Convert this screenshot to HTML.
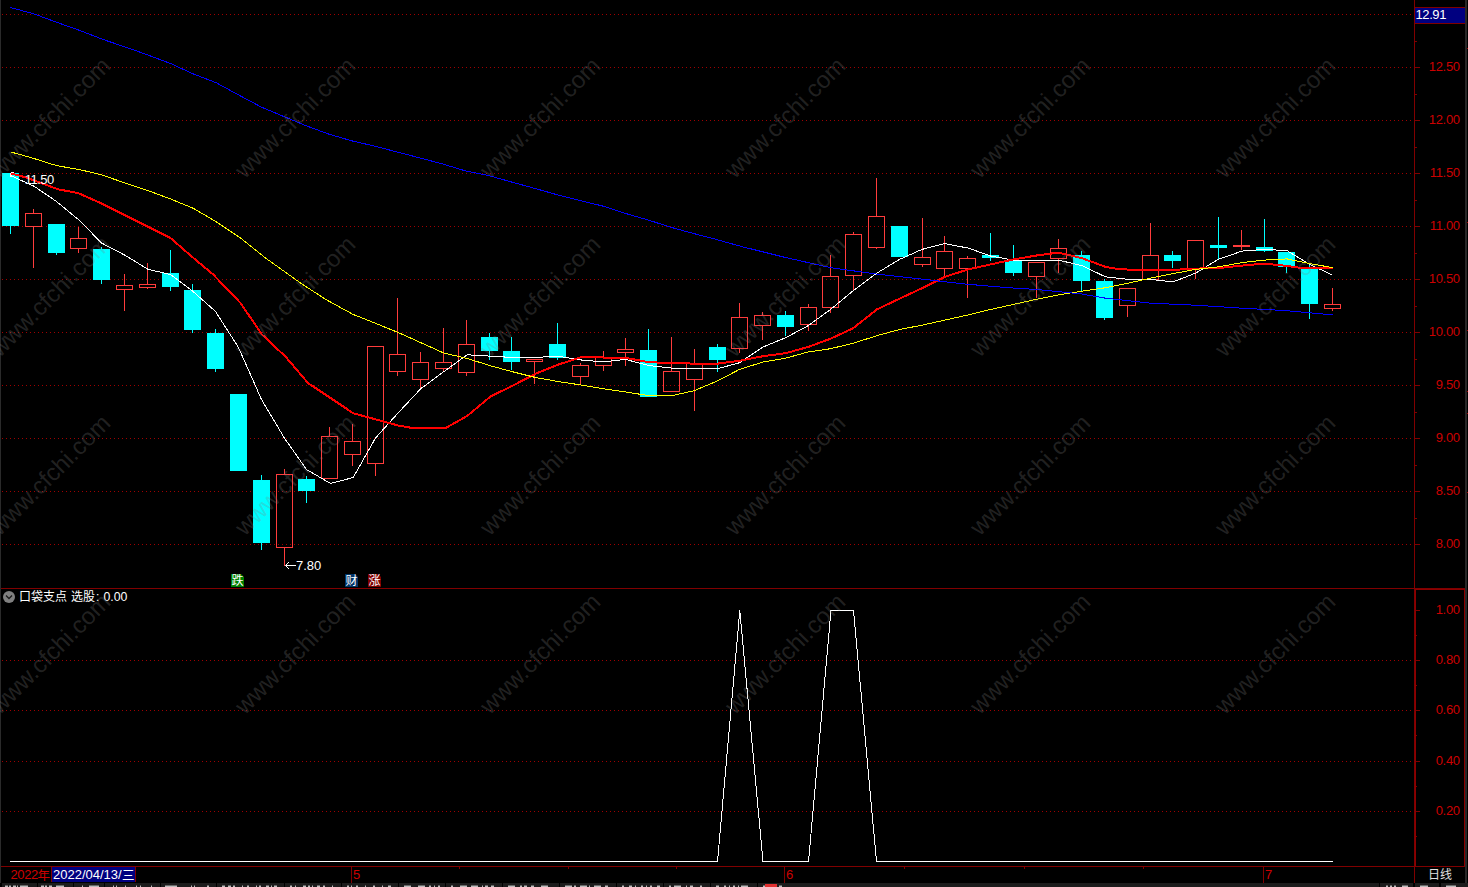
<!DOCTYPE html>
<html lang="zh"><head><meta charset="utf-8"><title>K线图</title>
<style>html,body{margin:0;padding:0;background:#000;}body{width:1468px;height:887px;overflow:hidden;position:relative;font-family:"Liberation Sans", sans-serif;}svg{position:absolute;left:0;top:0;display:block}text{font-family:"Liberation Sans", "Noto Sans CJK SC", sans-serif;}</style>
</head><body>
<svg width="1468" height="887" viewBox="0 0 1468 887">
<rect width="1468" height="887" fill="#000"/>
<rect x="1465" y="0" width="2" height="883" fill="#282828"/>
<rect x="1467" y="48" width="1" height="1" fill="#a00000"/>
<rect x="1467" y="222" width="1" height="1" fill="#a00000"/>
<rect x="1467" y="330" width="1" height="1" fill="#a00000"/>
<rect x="1467" y="391" width="1" height="1" fill="#a00000"/>
<rect x="1467" y="413" width="1" height="1" fill="#a00000"/>
<rect x="1467" y="492" width="1" height="1" fill="#a00000"/>
<g stroke="#a00000" stroke-width="1" stroke-dasharray="1 3" shape-rendering="crispEdges">
<line x1="2" y1="14.5" x2="1412" y2="14.5"/>
<line x1="2" y1="67.5" x2="1412" y2="67.5"/>
<line x1="2" y1="120.5" x2="1412" y2="120.5"/>
<line x1="2" y1="173.5" x2="1412" y2="173.5"/>
<line x1="2" y1="226.5" x2="1412" y2="226.5"/>
<line x1="2" y1="279.5" x2="1412" y2="279.5"/>
<line x1="2" y1="332.5" x2="1412" y2="332.5"/>
<line x1="2" y1="385.5" x2="1412" y2="385.5"/>
<line x1="2" y1="438.5" x2="1412" y2="438.5"/>
<line x1="2" y1="491.5" x2="1412" y2="491.5"/>
<line x1="2" y1="544.5" x2="1412" y2="544.5"/>
<line x1="2" y1="660.5" x2="1412" y2="660.5"/>
<line x1="2" y1="710.5" x2="1412" y2="710.5"/>
<line x1="2" y1="761.5" x2="1412" y2="761.5"/>
<line x1="2" y1="811.5" x2="1412" y2="811.5"/>
</g>
<g fill="#800000" shape-rendering="crispEdges">
<rect x="1414" y="0" width="1" height="883"/>
<rect x="0" y="588" width="1465" height="1"/>
<rect x="0" y="866" width="1465" height="1"/>
<rect x="1415" y="589" width="50" height="1" fill="#8c0000"/>
<rect x="1415" y="589" width="1" height="277" fill="#8c0000"/>
<rect x="1464" y="589" width="1" height="277" fill="#8c0000"/>
<rect x="1415" y="14" width="5" height="1"/>
<rect x="1415" y="41" width="2" height="1"/>
<rect x="1415" y="67" width="5" height="1"/>
<rect x="1415" y="94" width="2" height="1"/>
<rect x="1415" y="120" width="5" height="1"/>
<rect x="1415" y="147" width="2" height="1"/>
<rect x="1415" y="173" width="5" height="1"/>
<rect x="1415" y="200" width="2" height="1"/>
<rect x="1415" y="226" width="5" height="1"/>
<rect x="1415" y="253" width="2" height="1"/>
<rect x="1415" y="279" width="5" height="1"/>
<rect x="1415" y="306" width="2" height="1"/>
<rect x="1415" y="332" width="5" height="1"/>
<rect x="1415" y="359" width="2" height="1"/>
<rect x="1415" y="385" width="5" height="1"/>
<rect x="1415" y="412" width="2" height="1"/>
<rect x="1415" y="438" width="5" height="1"/>
<rect x="1415" y="465" width="2" height="1"/>
<rect x="1415" y="491" width="5" height="1"/>
<rect x="1415" y="518" width="2" height="1"/>
<rect x="1415" y="544" width="5" height="1"/>
<rect x="1416" y="610" width="4" height="1"/>
<rect x="1416" y="635" width="1" height="1"/>
<rect x="1416" y="660" width="4" height="1"/>
<rect x="1416" y="685" width="1" height="1"/>
<rect x="1416" y="710" width="4" height="1"/>
<rect x="1416" y="735" width="1" height="1"/>
<rect x="1416" y="761" width="4" height="1"/>
<rect x="1416" y="786" width="1" height="1"/>
<rect x="1416" y="811" width="4" height="1"/>
<rect x="1416" y="836" width="1" height="1"/>
<rect x="351" y="866" width="1" height="17"/>
<rect x="784" y="866" width="1" height="17"/>
<rect x="1263" y="866" width="1" height="17"/>
<rect x="459" y="866" width="1" height="3"/>
<rect x="568" y="866" width="1" height="3"/>
<rect x="676" y="866" width="1" height="3"/>
<rect x="904" y="866" width="1" height="3"/>
<rect x="1024" y="866" width="1" height="3"/>
<rect x="1143" y="866" width="1" height="3"/>
</g>
<rect x="0" y="0" width="1" height="883" fill="#2a2a2a"/>
<g fill="#cc0000" font-size="13" text-anchor="end" letter-spacing="-0.3">
<text x="1459.8" y="71">12.50</text>
<text x="1459.8" y="124">12.00</text>
<text x="1459.8" y="177">11.50</text>
<text x="1459.8" y="230">11.00</text>
<text x="1459.8" y="283">10.50</text>
<text x="1459.8" y="336">10.00</text>
<text x="1459.8" y="389">9.50</text>
<text x="1459.8" y="442">9.00</text>
<text x="1459.8" y="495">8.50</text>
<text x="1459.8" y="548">8.00</text>
<text x="1459.8" y="614">1.00</text>
<text x="1459.8" y="664">0.80</text>
<text x="1459.8" y="714">0.60</text>
<text x="1459.8" y="765">0.40</text>
<text x="1459.8" y="815">0.20</text>
</g>
<rect x="1415" y="7" width="50" height="17" fill="#000080"/>
<rect x="1415" y="7" width="50" height="1" fill="#800000"/><rect x="1415" y="23" width="50" height="1" fill="#800000"/>
<text x="1415.5" y="19" font-size="13" fill="#fff" letter-spacing="-0.4">12.91</text>
<g shape-rendering="crispEdges">
<rect x="2" y="173" width="17" height="53" fill="#00ffff"/>
<rect x="10" y="226" width="1" height="8" fill="#00ffff"/>
<rect x="25.5" y="213.5" width="16" height="13" fill="none" stroke="#ff3c3c" stroke-width="1"/>
<rect x="33" y="209" width="1" height="4" fill="#ff3c3c"/>
<rect x="33" y="227" width="1" height="41" fill="#ff3c3c"/>
<rect x="48" y="224" width="17" height="29" fill="#00ffff"/>
<rect x="56" y="253" width="1" height="2" fill="#00ffff"/>
<rect x="70.5" y="238.5" width="16" height="10" fill="none" stroke="#ff3c3c" stroke-width="1"/>
<rect x="78" y="227" width="1" height="11" fill="#ff3c3c"/>
<rect x="78" y="249" width="1" height="4" fill="#ff3c3c"/>
<rect x="93" y="249" width="17" height="31" fill="#00ffff"/>
<rect x="101" y="247" width="1" height="2" fill="#00ffff"/>
<rect x="101" y="280" width="1" height="4" fill="#00ffff"/>
<rect x="116.5" y="285.5" width="16" height="4" fill="none" stroke="#ff3c3c" stroke-width="1"/>
<rect x="124" y="274" width="1" height="11" fill="#ff3c3c"/>
<rect x="124" y="290" width="1" height="21" fill="#ff3c3c"/>
<rect x="139.5" y="284.5" width="16" height="3" fill="none" stroke="#ff3c3c" stroke-width="1"/>
<rect x="147" y="263" width="1" height="21" fill="#ff3c3c"/>
<rect x="147" y="288" width="1" height="1" fill="#ff3c3c"/>
<rect x="162" y="273" width="17" height="14" fill="#00ffff"/>
<rect x="170" y="250" width="1" height="23" fill="#00ffff"/>
<rect x="170" y="287" width="1" height="4" fill="#00ffff"/>
<rect x="184" y="290" width="17" height="40" fill="#00ffff"/>
<rect x="192" y="284" width="1" height="6" fill="#00ffff"/>
<rect x="192" y="330" width="1" height="3" fill="#00ffff"/>
<rect x="207" y="333" width="17" height="36" fill="#00ffff"/>
<rect x="215" y="329" width="1" height="4" fill="#00ffff"/>
<rect x="215" y="369" width="1" height="3" fill="#00ffff"/>
<rect x="230" y="394" width="17" height="77" fill="#00ffff"/>
<rect x="253" y="480" width="17" height="63" fill="#00ffff"/>
<rect x="261" y="475" width="1" height="5" fill="#00ffff"/>
<rect x="261" y="543" width="1" height="7" fill="#00ffff"/>
<rect x="276.5" y="474.5" width="16" height="73" fill="none" stroke="#ff3c3c" stroke-width="1"/>
<rect x="284" y="469" width="1" height="5" fill="#ff3c3c"/>
<rect x="284" y="548" width="1" height="18" fill="#ff3c3c"/>
<rect x="298" y="479" width="17" height="12" fill="#00ffff"/>
<rect x="306" y="476" width="1" height="3" fill="#00ffff"/>
<rect x="306" y="491" width="1" height="12" fill="#00ffff"/>
<rect x="321.5" y="436.5" width="16" height="42" fill="none" stroke="#ff3c3c" stroke-width="1"/>
<rect x="329" y="427" width="1" height="9" fill="#ff3c3c"/>
<rect x="344.5" y="441.5" width="16" height="13" fill="none" stroke="#ff3c3c" stroke-width="1"/>
<rect x="352" y="424" width="1" height="17" fill="#ff3c3c"/>
<rect x="352" y="455" width="1" height="11" fill="#ff3c3c"/>
<rect x="367.5" y="346.5" width="16" height="117" fill="none" stroke="#ff3c3c" stroke-width="1"/>
<rect x="375" y="464" width="1" height="12" fill="#ff3c3c"/>
<rect x="389.5" y="354.5" width="16" height="17" fill="none" stroke="#ff3c3c" stroke-width="1"/>
<rect x="397" y="298" width="1" height="56" fill="#ff3c3c"/>
<rect x="397" y="372" width="1" height="4" fill="#ff3c3c"/>
<rect x="412.5" y="362.5" width="16" height="17" fill="none" stroke="#ff3c3c" stroke-width="1"/>
<rect x="420" y="352" width="1" height="10" fill="#ff3c3c"/>
<rect x="420" y="380" width="1" height="8" fill="#ff3c3c"/>
<rect x="435.5" y="362.5" width="16" height="6" fill="none" stroke="#ff3c3c" stroke-width="1"/>
<rect x="443" y="328" width="1" height="34" fill="#ff3c3c"/>
<rect x="443" y="369" width="1" height="2" fill="#ff3c3c"/>
<rect x="458.5" y="344.5" width="16" height="28" fill="none" stroke="#ff3c3c" stroke-width="1"/>
<rect x="466" y="320" width="1" height="24" fill="#ff3c3c"/>
<rect x="466" y="373" width="1" height="3" fill="#ff3c3c"/>
<rect x="481" y="337" width="17" height="14" fill="#00ffff"/>
<rect x="489" y="333" width="1" height="4" fill="#00ffff"/>
<rect x="489" y="351" width="1" height="9" fill="#00ffff"/>
<rect x="503" y="351" width="17" height="11" fill="#00ffff"/>
<rect x="511" y="337" width="1" height="14" fill="#00ffff"/>
<rect x="511" y="362" width="1" height="8" fill="#00ffff"/>
<rect x="526.5" y="359.5" width="16" height="2" fill="none" stroke="#ff3c3c" stroke-width="1"/>
<rect x="534" y="362" width="1" height="22" fill="#ff3c3c"/>
<rect x="549" y="344" width="17" height="14" fill="#00ffff"/>
<rect x="557" y="323" width="1" height="21" fill="#00ffff"/>
<rect x="557" y="358" width="1" height="2" fill="#00ffff"/>
<rect x="572.5" y="365.5" width="16" height="11" fill="none" stroke="#ff3c3c" stroke-width="1"/>
<rect x="580" y="363" width="1" height="2" fill="#ff3c3c"/>
<rect x="580" y="377" width="1" height="7" fill="#ff3c3c"/>
<rect x="595.5" y="357.5" width="16" height="8" fill="none" stroke="#ff3c3c" stroke-width="1"/>
<rect x="603" y="351" width="1" height="6" fill="#ff3c3c"/>
<rect x="603" y="366" width="1" height="5" fill="#ff3c3c"/>
<rect x="617.5" y="349.5" width="16" height="3" fill="none" stroke="#ff3c3c" stroke-width="1"/>
<rect x="625" y="338" width="1" height="11" fill="#ff3c3c"/>
<rect x="625" y="353" width="1" height="13" fill="#ff3c3c"/>
<rect x="640" y="350" width="17" height="47" fill="#00ffff"/>
<rect x="648" y="329" width="1" height="21" fill="#00ffff"/>
<rect x="663.5" y="371.5" width="16" height="20" fill="none" stroke="#ff3c3c" stroke-width="1"/>
<rect x="671" y="337" width="1" height="34" fill="#ff3c3c"/>
<rect x="686.5" y="363.5" width="16" height="16" fill="none" stroke="#ff3c3c" stroke-width="1"/>
<rect x="694" y="349" width="1" height="14" fill="#ff3c3c"/>
<rect x="694" y="380" width="1" height="31" fill="#ff3c3c"/>
<rect x="709" y="347" width="17" height="13" fill="#00ffff"/>
<rect x="717" y="344" width="1" height="3" fill="#00ffff"/>
<rect x="717" y="360" width="1" height="12" fill="#00ffff"/>
<rect x="731.5" y="317.5" width="16" height="31" fill="none" stroke="#ff3c3c" stroke-width="1"/>
<rect x="739" y="303" width="1" height="14" fill="#ff3c3c"/>
<rect x="739" y="349" width="1" height="4" fill="#ff3c3c"/>
<rect x="754.5" y="315.5" width="16" height="10" fill="none" stroke="#ff3c3c" stroke-width="1"/>
<rect x="762" y="312" width="1" height="3" fill="#ff3c3c"/>
<rect x="762" y="326" width="1" height="14" fill="#ff3c3c"/>
<rect x="777" y="315" width="17" height="12" fill="#00ffff"/>
<rect x="785" y="311" width="1" height="4" fill="#00ffff"/>
<rect x="785" y="327" width="1" height="9" fill="#00ffff"/>
<rect x="800.5" y="307.5" width="16" height="17" fill="none" stroke="#ff3c3c" stroke-width="1"/>
<rect x="808" y="304" width="1" height="3" fill="#ff3c3c"/>
<rect x="808" y="325" width="1" height="6" fill="#ff3c3c"/>
<rect x="822.5" y="276.5" width="16" height="31" fill="none" stroke="#ff3c3c" stroke-width="1"/>
<rect x="830" y="255" width="1" height="21" fill="#ff3c3c"/>
<rect x="830" y="308" width="1" height="5" fill="#ff3c3c"/>
<rect x="845.5" y="234.5" width="16" height="41" fill="none" stroke="#ff3c3c" stroke-width="1"/>
<rect x="853" y="232" width="1" height="2" fill="#ff3c3c"/>
<rect x="853" y="276" width="1" height="14" fill="#ff3c3c"/>
<rect x="868.5" y="216.5" width="16" height="31" fill="none" stroke="#ff3c3c" stroke-width="1"/>
<rect x="876" y="178" width="1" height="38" fill="#ff3c3c"/>
<rect x="876" y="248" width="1" height="1" fill="#ff3c3c"/>
<rect x="891" y="226" width="17" height="31" fill="#00ffff"/>
<rect x="914.5" y="257.5" width="16" height="7" fill="none" stroke="#ff3c3c" stroke-width="1"/>
<rect x="922" y="218" width="1" height="39" fill="#ff3c3c"/>
<rect x="922" y="265" width="1" height="2" fill="#ff3c3c"/>
<rect x="936.5" y="251.5" width="16" height="17" fill="none" stroke="#ff3c3c" stroke-width="1"/>
<rect x="944" y="236" width="1" height="15" fill="#ff3c3c"/>
<rect x="944" y="269" width="1" height="7" fill="#ff3c3c"/>
<rect x="959.5" y="258.5" width="16" height="10" fill="none" stroke="#ff3c3c" stroke-width="1"/>
<rect x="967" y="256" width="1" height="2" fill="#ff3c3c"/>
<rect x="967" y="269" width="1" height="29" fill="#ff3c3c"/>
<rect x="982" y="255" width="17" height="3" fill="#00ffff"/>
<rect x="990" y="233" width="1" height="22" fill="#00ffff"/>
<rect x="990" y="258" width="1" height="3" fill="#00ffff"/>
<rect x="1005" y="260" width="17" height="13" fill="#00ffff"/>
<rect x="1013" y="245" width="1" height="15" fill="#00ffff"/>
<rect x="1013" y="273" width="1" height="3" fill="#00ffff"/>
<rect x="1028.5" y="262.5" width="16" height="14" fill="none" stroke="#ff3c3c" stroke-width="1"/>
<rect x="1036" y="277" width="1" height="21" fill="#ff3c3c"/>
<rect x="1050.5" y="248.5" width="16" height="10" fill="none" stroke="#ff3c3c" stroke-width="1"/>
<rect x="1058" y="239" width="1" height="9" fill="#ff3c3c"/>
<rect x="1058" y="259" width="1" height="14" fill="#ff3c3c"/>
<rect x="1073" y="255" width="17" height="26" fill="#00ffff"/>
<rect x="1081" y="251" width="1" height="4" fill="#00ffff"/>
<rect x="1081" y="281" width="1" height="10" fill="#00ffff"/>
<rect x="1096" y="281" width="17" height="37" fill="#00ffff"/>
<rect x="1104" y="279" width="1" height="2" fill="#00ffff"/>
<rect x="1104" y="318" width="1" height="2" fill="#00ffff"/>
<rect x="1119.5" y="288.5" width="16" height="17" fill="none" stroke="#ff3c3c" stroke-width="1"/>
<rect x="1127" y="306" width="1" height="11" fill="#ff3c3c"/>
<rect x="1142.5" y="255.5" width="16" height="24" fill="none" stroke="#ff3c3c" stroke-width="1"/>
<rect x="1150" y="223" width="1" height="32" fill="#ff3c3c"/>
<rect x="1164" y="255" width="17" height="6" fill="#00ffff"/>
<rect x="1172" y="251" width="1" height="4" fill="#00ffff"/>
<rect x="1172" y="261" width="1" height="7" fill="#00ffff"/>
<rect x="1187.5" y="240.5" width="16" height="28" fill="none" stroke="#ff3c3c" stroke-width="1"/>
<rect x="1195" y="269" width="1" height="10" fill="#ff3c3c"/>
<rect x="1210" y="245" width="17" height="3" fill="#00ffff"/>
<rect x="1218" y="217" width="1" height="28" fill="#00ffff"/>
<rect x="1218" y="248" width="1" height="11" fill="#00ffff"/>
<rect x="1233.5" y="245.5" width="16" height="1" fill="none" stroke="#ff3c3c" stroke-width="1"/>
<rect x="1241" y="230" width="1" height="15" fill="#ff3c3c"/>
<rect x="1241" y="247" width="1" height="3" fill="#ff3c3c"/>
<rect x="1256" y="247" width="17" height="4" fill="#00ffff"/>
<rect x="1264" y="219" width="1" height="28" fill="#00ffff"/>
<rect x="1264" y="251" width="1" height="1" fill="#00ffff"/>
<rect x="1278" y="252" width="17" height="15" fill="#00ffff"/>
<rect x="1286" y="267" width="1" height="6" fill="#00ffff"/>
<rect x="1301" y="268" width="17" height="36" fill="#00ffff"/>
<rect x="1309" y="264" width="1" height="4" fill="#00ffff"/>
<rect x="1309" y="304" width="1" height="15" fill="#00ffff"/>
<rect x="1324.5" y="304.5" width="16" height="4" fill="none" stroke="#ff3c3c" stroke-width="1"/>
<rect x="1332" y="288" width="1" height="16" fill="#ff3c3c"/>
<rect x="1332" y="309" width="1" height="2" fill="#ff3c3c"/>
</g>
<path d="M11 172h3v1h-3zM10 173h1v4h-1z" fill="#fff" shape-rendering="crispEdges"/>
<polyline points="10.5,175.5 34.5,186.5 56.5,201.5 79.5,220.5 101.5,243.0 125.5,255.5 148.0,269.3 170.5,274.5 193.0,291.5 215.5,311.5 238.5,347.5 261.5,399.5 284.5,438.2 306.5,469.5 330.5,483.5 353.2,477.5 375.5,438.0 398.5,412.5 421.0,388.5 444.0,371.5 467.1,354.8 490.0,356.1 512.5,357.5 535.5,357.5 558.0,356.1 580.3,359.9 602.8,361.9 625.3,359.4 649.1,365.6 671.6,368.1 694.2,368.6 717.9,368.6 739.3,362.8 763.1,347.0 785.6,337.7 808.1,325.7 830.6,309.4 853.2,290.7 876.9,273.1 899.5,259.4 922.0,249.4 944.5,243.6 968.3,248.1 990.8,256.1 1013.4,260.1 1035.9,260.1 1058.4,260.1 1081.8,265.6 1105.6,276.9 1128.1,279.4 1150.6,279.4 1173.1,281.9 1195.7,273.1 1218.2,259.4 1242.0,251.1 1264.5,249.4 1287.0,250.6 1309.6,264.4 1332.6,275.1" fill="none" stroke="#ffffff" stroke-width="1" shape-rendering="crispEdges" stroke-linejoin="round"/>
<polyline points="11.5,173.5 25.5,177.3 41.5,183.1 58.0,189.3 78.0,193.0 100.5,203.0 125.5,215.5 150.5,228.0 170.5,238.0 190.5,255.5 213.0,274.3 240.5,303.0 261.8,334.3 285.6,356.8 308.1,383.1 330.7,398.1 353.2,413.2 375.7,419.4 398.2,425.5 413.5,428.2 445.5,428.2 467.5,415.7 490.5,396.5 513.0,385.5 535.5,373.8 558.0,364.7 580.3,357.4 602.8,357.5 625.3,357.8 649.1,362.2 671.6,363.1 694.2,363.6 717.9,363.6 739.3,360.8 763.1,356.2 785.6,353.2 808.1,347.0 830.6,338.7 853.2,328.2 876.9,309.4 899.5,298.7 922.0,288.2 944.5,276.9 968.3,269.4 990.8,264.4 1013.4,259.4 1035.9,255.6 1058.4,252.6 1081.8,258.1 1105.6,266.9 1120.5,269.4 1150.6,269.9 1173.1,269.9 1195.7,268.6 1218.2,268.1 1242.0,265.6 1264.5,263.6 1287.0,265.9 1300.5,267.9 1320.5,268.5 1332.6,267.7" fill="none" stroke="#ff0000" stroke-width="2" shape-rendering="crispEdges" stroke-linejoin="round"/>
<polyline points="10.5,151.9 33.0,158.2 56.8,165.7 79.3,169.5 101.9,175.0 125.7,183.2 148.2,190.7 170.7,199.0 193.2,208.3 215.8,221.5 240.5,238.0 265.5,258.0 300.5,283.0 325.5,299.3 353.2,314.5 367.5,320.1 398.2,332.5 444.0,353.1 467.5,358.5 490.5,365.8 513.0,371.9 535.5,377.5 558.0,381.5 580.3,384.9 602.8,388.7 625.3,391.9 649.1,395.7 671.6,395.7 694.2,390.7 717.9,380.7 739.3,369.5 763.1,362.0 785.6,358.2 808.1,352.0 830.6,348.7 853.2,343.2 876.9,335.7 899.5,329.5 922.0,325.2 944.5,320.2 968.3,314.9 990.8,309.4 1013.4,304.4 1035.9,299.4 1058.4,294.9 1081.8,291.2 1105.6,287.7 1128.1,283.2 1150.6,278.1 1173.1,273.6 1195.7,269.4 1218.2,266.9 1242.0,262.6 1264.5,260.1 1287.0,258.9 1309.6,263.6 1332.6,267.6" fill="none" stroke="#ffff00" stroke-width="1" shape-rendering="crispEdges" stroke-linejoin="round"/>
<polyline points="10.5,7.5 33.9,13.9 56.4,22.2 79.0,30.2 102.3,39.2 124.9,46.9 147.4,54.8 170.8,63.6 192.5,73.6 215.9,82.6 238.5,94.9 261.5,107.2 284.5,116.8 306.5,125.9 329.5,134.4 352.5,141.0 375.5,146.3 397.5,152.1 420.5,158.1 443.5,164.2 465.5,170.9 488.9,175.6 512.2,182.2 535.6,188.6 557.3,194.8 580.7,200.6 604.1,206.4 625.8,213.5 649.1,220.3 670.9,227.3 694.2,233.7 710.5,237.8 741.0,246.4 785.9,257.6 830.9,267.7 875.9,274.0 920.8,279.0 965.8,284.1 1010.8,287.9 1035.9,289.4 1081.0,293.9 1105.6,298.2 1150.6,303.2 1195.7,305.2 1242.0,308.2 1287.0,310.7 1332.6,314.9" fill="none" stroke="#0000ff" stroke-width="1" shape-rendering="crispEdges" stroke-linejoin="round"/>
<polyline points="9.6,861.5 717.5,861.5 739.8,610.5 763.0,861.5 808.5,861.5 831.0,610.5 853.5,610.5 876.5,861.5 1332.5,861.5" fill="none" stroke="#ffffff" stroke-width="1" shape-rendering="crispEdges" stroke-linejoin="round"/>
<text x="24.7" y="184" font-size="13" fill="#fff" letter-spacing="-0.5">11.50</text>
<text x="296" y="570" font-size="13" fill="#fff">7.80</text>
<path d="M285.5 565.5H296M285.5 565.5l3.5-3.5M285.5 565.5l3.5 3.5" stroke="#fff" stroke-width="1" fill="none"/>
<path d="M231 574h10l3 3v10h-13z" fill="#008000"/>
<text x="231.5" y="585" font-size="12" fill="#fff">跌</text>
<path d="M345 574h10l3 3v10h-13z" fill="#003366"/>
<text x="345.5" y="585" font-size="12" fill="#fff">财</text>
<path d="M368 574h10l3 3v10h-13z" fill="#800000"/>
<text x="368.5" y="585" font-size="12" fill="#fff">涨</text>
<circle cx="9" cy="597" r="6" fill="#808080"/>
<path d="M6 595.5l3 3 3-3" stroke="#1a1a1a" stroke-width="1.3" fill="none"/>
<text x="19" y="601" font-size="12" fill="#fff">口袋支点</text>
<text x="71" y="601" font-size="12" fill="#fff">选股</text>
<text x="96.0" y="601" font-size="12" fill="#fff">:</text>
<text x="103.4" y="601" font-size="12.3" fill="#fff">0.00</text>
<text x="10.6" y="879" font-size="13" fill="#cc0000" letter-spacing="-0.45">2022</text>
<text x="37.5" y="879.5" font-size="12.5" fill="#cc0000">年</text>
<rect x="51" y="867" width="85" height="15" fill="#000080"/>
<rect x="51" y="867" width="1" height="15" fill="#800000"/><rect x="135" y="867" width="1" height="15" fill="#800000"/>
<text x="53" y="879" font-size="13" fill="#fff">2022/04/13/</text>
<text x="122" y="879.5" font-size="12.5" fill="#fff">三</text>
<text x="353" y="879" font-size="13" fill="#cc0000">5</text>
<text x="786" y="879" font-size="13" fill="#cc0000">6</text>
<text x="1265" y="879" font-size="13" fill="#cc0000">7</text>
<text x="1428" y="879.3" font-size="12" fill="#e0e0e0">日线</text>
<g fill="#1c1c1c" shape-rendering="crispEdges">
<rect x="2" y="883" width="35" height="4"/>
<rect x="38" y="883" width="35" height="4"/>
<rect x="74" y="883" width="30" height="4"/>
<rect x="105" y="883" width="55" height="4"/>
<rect x="161" y="883" width="55" height="4"/>
<rect x="217" y="883" width="67" height="4"/>
<rect x="285" y="883" width="56" height="4"/>
<rect x="342" y="883" width="56" height="4"/>
<rect x="399" y="883" width="46" height="4"/>
<rect x="446" y="883" width="56" height="4"/>
<rect x="503" y="883" width="56" height="4"/>
<rect x="560" y="883" width="56" height="4"/>
<rect x="617" y="883" width="46" height="4"/>
<rect x="664" y="883" width="46" height="4"/>
<rect x="711" y="883" width="46" height="4"/>
<rect x="758" y="883" width="34" height="4"/>
<rect x="792" y="883" width="587" height="4"/>
<rect x="1380" y="883" width="33" height="4"/>
<rect x="1415" y="883" width="24" height="4"/>
<rect x="1441" y="883" width="27" height="4"/>
</g>
<g fill="#bdbdbd" shape-rendering="crispEdges">
<rect x="4.5" y="886" width="3.5" height="1"/><rect x="4.5" y="885" width="3.5" height="1" fill="#6a6a6a"/>
<rect x="9.0" y="886" width="1.5" height="1"/><rect x="9.0" y="885" width="1.5" height="1" fill="#6a6a6a"/>
<rect x="12.7" y="886" width="3.0" height="1"/><rect x="12.7" y="885" width="3.0" height="1" fill="#6a6a6a"/>
<rect x="16.5" y="886" width="1.5" height="1"/><rect x="16.5" y="885" width="1.5" height="1" fill="#6a6a6a"/>
<rect x="19.5" y="886" width="8.0" height="1"/><rect x="19.5" y="885" width="8.0" height="1" fill="#6a6a6a"/>
<rect x="40.5" y="886" width="3.0" height="1"/><rect x="40.5" y="885" width="3.0" height="1" fill="#6a6a6a"/>
<rect x="45.0" y="886" width="1.5" height="1"/><rect x="45.0" y="885" width="1.5" height="1" fill="#6a6a6a"/>
<rect x="48.7" y="886" width="3.0" height="1"/><rect x="48.7" y="885" width="3.0" height="1" fill="#6a6a6a"/>
<rect x="55.5" y="886" width="8.0" height="1"/><rect x="55.5" y="885" width="8.0" height="1" fill="#6a6a6a"/>
<rect x="81.7" y="886" width="1.5" height="1"/><rect x="81.7" y="885" width="1.5" height="1" fill="#6a6a6a"/>
<rect x="88.5" y="886" width="10.0" height="1"/><rect x="88.5" y="885" width="10.0" height="1" fill="#6a6a6a"/>
<rect x="112.5" y="886" width="1.5" height="1"/><rect x="112.5" y="885" width="1.5" height="1" fill="#6a6a6a"/>
<rect x="115.5" y="886" width="1.5" height="1"/><rect x="115.5" y="885" width="1.5" height="1" fill="#6a6a6a"/>
<rect x="124.5" y="886" width="1.5" height="1"/><rect x="124.5" y="885" width="1.5" height="1" fill="#6a6a6a"/>
<rect x="135.7" y="886" width="1.5" height="1"/><rect x="135.7" y="885" width="1.5" height="1" fill="#6a6a6a"/>
<rect x="139.5" y="886" width="1.5" height="1"/><rect x="139.5" y="885" width="1.5" height="1" fill="#6a6a6a"/>
<rect x="150.7" y="886" width="1.5" height="1"/><rect x="150.7" y="885" width="1.5" height="1" fill="#6a6a6a"/>
<rect x="165.0" y="886" width="12.0" height="1"/><rect x="165.0" y="885" width="12.0" height="1" fill="#6a6a6a"/>
<rect x="190.5" y="886" width="1.5" height="1"/><rect x="190.5" y="885" width="1.5" height="1" fill="#6a6a6a"/>
<rect x="193.5" y="886" width="1.5" height="1"/><rect x="193.5" y="885" width="1.5" height="1" fill="#6a6a6a"/>
<rect x="207.0" y="886" width="1.5" height="1"/><rect x="207.0" y="885" width="1.5" height="1" fill="#6a6a6a"/>
<rect x="222.0" y="886" width="3.0" height="1"/><rect x="222.0" y="885" width="3.0" height="1" fill="#6a6a6a"/>
<rect x="228.0" y="886" width="3.0" height="1"/><rect x="228.0" y="885" width="3.0" height="1" fill="#6a6a6a"/>
<rect x="233.0" y="886" width="1.5" height="1"/><rect x="233.0" y="885" width="1.5" height="1" fill="#6a6a6a"/>
<rect x="241.5" y="886" width="1.5" height="1"/><rect x="241.5" y="885" width="1.5" height="1" fill="#6a6a6a"/>
<rect x="247.0" y="886" width="1.5" height="1"/><rect x="247.0" y="885" width="1.5" height="1" fill="#6a6a6a"/>
<rect x="255.5" y="886" width="1.5" height="1"/><rect x="255.5" y="885" width="1.5" height="1" fill="#6a6a6a"/>
<rect x="259.0" y="886" width="1.5" height="1"/><rect x="259.0" y="885" width="1.5" height="1" fill="#6a6a6a"/>
<rect x="265.5" y="886" width="3.0" height="1"/><rect x="265.5" y="885" width="3.0" height="1" fill="#6a6a6a"/>
<rect x="270.5" y="886" width="1.5" height="1"/><rect x="270.5" y="885" width="1.5" height="1" fill="#6a6a6a"/>
<rect x="274.0" y="886" width="3.0" height="1"/><rect x="274.0" y="885" width="3.0" height="1" fill="#6a6a6a"/>
<rect x="290.0" y="886" width="1.5" height="1"/><rect x="290.0" y="885" width="1.5" height="1" fill="#6a6a6a"/>
<rect x="294.5" y="886" width="1.5" height="1"/><rect x="294.5" y="885" width="1.5" height="1" fill="#6a6a6a"/>
<rect x="303.0" y="886" width="3.0" height="1"/><rect x="303.0" y="885" width="3.0" height="1" fill="#6a6a6a"/>
<rect x="308.0" y="886" width="1.5" height="1"/><rect x="308.0" y="885" width="1.5" height="1" fill="#6a6a6a"/>
<rect x="311.5" y="886" width="1.5" height="1"/><rect x="311.5" y="885" width="1.5" height="1" fill="#6a6a6a"/>
<rect x="317.0" y="886" width="3.0" height="1"/><rect x="317.0" y="885" width="3.0" height="1" fill="#6a6a6a"/>
<rect x="323.0" y="886" width="1.5" height="1"/><rect x="323.0" y="885" width="1.5" height="1" fill="#6a6a6a"/>
<rect x="331.5" y="886" width="1.5" height="1"/><rect x="331.5" y="885" width="1.5" height="1" fill="#6a6a6a"/>
<rect x="347.0" y="886" width="1.5" height="1"/><rect x="347.0" y="885" width="1.5" height="1" fill="#6a6a6a"/>
<rect x="350.5" y="886" width="1.5" height="1"/><rect x="350.5" y="885" width="1.5" height="1" fill="#6a6a6a"/>
<rect x="356.0" y="886" width="1.5" height="1"/><rect x="356.0" y="885" width="1.5" height="1" fill="#6a6a6a"/>
<rect x="364.5" y="886" width="1.5" height="1"/><rect x="364.5" y="885" width="1.5" height="1" fill="#6a6a6a"/>
<rect x="373.0" y="886" width="1.5" height="1"/><rect x="373.0" y="885" width="1.5" height="1" fill="#6a6a6a"/>
<rect x="381.5" y="886" width="1.5" height="1"/><rect x="381.5" y="885" width="1.5" height="1" fill="#6a6a6a"/>
<rect x="388.0" y="886" width="3.0" height="1"/><rect x="388.0" y="885" width="3.0" height="1" fill="#6a6a6a"/>
<rect x="404.0" y="886" width="7.0" height="1"/><rect x="404.0" y="885" width="7.0" height="1" fill="#6a6a6a"/>
<rect x="418.0" y="886" width="7.0" height="1"/><rect x="418.0" y="885" width="7.0" height="1" fill="#6a6a6a"/>
<rect x="429.0" y="886" width="1.5" height="1"/><rect x="429.0" y="885" width="1.5" height="1" fill="#6a6a6a"/>
<rect x="433.5" y="886" width="1.5" height="1"/><rect x="433.5" y="885" width="1.5" height="1" fill="#6a6a6a"/>
<rect x="438.0" y="886" width="1.5" height="1"/><rect x="438.0" y="885" width="1.5" height="1" fill="#6a6a6a"/>
<rect x="451.0" y="886" width="1.5" height="1"/><rect x="451.0" y="885" width="1.5" height="1" fill="#6a6a6a"/>
<rect x="459.5" y="886" width="7.0" height="1"/><rect x="459.5" y="885" width="7.0" height="1" fill="#6a6a6a"/>
<rect x="470.5" y="886" width="7.0" height="1"/><rect x="470.5" y="885" width="7.0" height="1" fill="#6a6a6a"/>
<rect x="481.5" y="886" width="1.5" height="1"/><rect x="481.5" y="885" width="1.5" height="1" fill="#6a6a6a"/>
<rect x="485.0" y="886" width="3.0" height="1"/><rect x="485.0" y="885" width="3.0" height="1" fill="#6a6a6a"/>
<rect x="491.0" y="886" width="3.0" height="1"/><rect x="491.0" y="885" width="3.0" height="1" fill="#6a6a6a"/>
<rect x="508.0" y="886" width="7.0" height="1"/><rect x="508.0" y="885" width="7.0" height="1" fill="#6a6a6a"/>
<rect x="520.0" y="886" width="1.5" height="1"/><rect x="520.0" y="885" width="1.5" height="1" fill="#6a6a6a"/>
<rect x="523.5" y="886" width="3.0" height="1"/><rect x="523.5" y="885" width="3.0" height="1" fill="#6a6a6a"/>
<rect x="530.5" y="886" width="3.0" height="1"/><rect x="530.5" y="885" width="3.0" height="1" fill="#6a6a6a"/>
<rect x="540.5" y="886" width="7.0" height="1"/><rect x="540.5" y="885" width="7.0" height="1" fill="#6a6a6a"/>
<rect x="565.0" y="886" width="7.0" height="1"/><rect x="565.0" y="885" width="7.0" height="1" fill="#6a6a6a"/>
<rect x="574.0" y="886" width="1.5" height="1"/><rect x="574.0" y="885" width="1.5" height="1" fill="#6a6a6a"/>
<rect x="579.5" y="886" width="7.0" height="1"/><rect x="579.5" y="885" width="7.0" height="1" fill="#6a6a6a"/>
<rect x="588.5" y="886" width="1.5" height="1"/><rect x="588.5" y="885" width="1.5" height="1" fill="#6a6a6a"/>
<rect x="594.0" y="886" width="7.0" height="1"/><rect x="594.0" y="885" width="7.0" height="1" fill="#6a6a6a"/>
<rect x="605.0" y="886" width="3.0" height="1"/><rect x="605.0" y="885" width="3.0" height="1" fill="#6a6a6a"/>
<rect x="622.0" y="886" width="1.5" height="1"/><rect x="622.0" y="885" width="1.5" height="1" fill="#6a6a6a"/>
<rect x="628.5" y="886" width="3.0" height="1"/><rect x="628.5" y="885" width="3.0" height="1" fill="#6a6a6a"/>
<rect x="634.5" y="886" width="1.5" height="1"/><rect x="634.5" y="885" width="1.5" height="1" fill="#6a6a6a"/>
<rect x="641.0" y="886" width="1.5" height="1"/><rect x="641.0" y="885" width="1.5" height="1" fill="#6a6a6a"/>
<rect x="645.5" y="886" width="1.5" height="1"/><rect x="645.5" y="885" width="1.5" height="1" fill="#6a6a6a"/>
<rect x="650.0" y="886" width="1.5" height="1"/><rect x="650.0" y="885" width="1.5" height="1" fill="#6a6a6a"/>
<rect x="656.5" y="886" width="3.0" height="1"/><rect x="656.5" y="885" width="3.0" height="1" fill="#6a6a6a"/>
<rect x="669.0" y="886" width="1.5" height="1"/><rect x="669.0" y="885" width="1.5" height="1" fill="#6a6a6a"/>
<rect x="673.5" y="886" width="7.0" height="1"/><rect x="673.5" y="885" width="7.0" height="1" fill="#6a6a6a"/>
<rect x="685.5" y="886" width="1.5" height="1"/><rect x="685.5" y="885" width="1.5" height="1" fill="#6a6a6a"/>
<rect x="690.0" y="886" width="3.0" height="1"/><rect x="690.0" y="885" width="3.0" height="1" fill="#6a6a6a"/>
<rect x="700.0" y="886" width="1.5" height="1"/><rect x="700.0" y="885" width="1.5" height="1" fill="#6a6a6a"/>
<rect x="716.0" y="886" width="3.0" height="1"/><rect x="716.0" y="885" width="3.0" height="1" fill="#6a6a6a"/>
<rect x="724.0" y="886" width="1.5" height="1"/><rect x="724.0" y="885" width="1.5" height="1" fill="#6a6a6a"/>
<rect x="728.5" y="886" width="1.5" height="1"/><rect x="728.5" y="885" width="1.5" height="1" fill="#6a6a6a"/>
<rect x="733.0" y="886" width="1.5" height="1"/><rect x="733.0" y="885" width="1.5" height="1" fill="#6a6a6a"/>
<rect x="737.5" y="886" width="1.5" height="1"/><rect x="737.5" y="885" width="1.5" height="1" fill="#6a6a6a"/>
<rect x="741.0" y="886" width="7.0" height="1"/><rect x="741.0" y="885" width="7.0" height="1" fill="#6a6a6a"/>
<rect x="763.0" y="886" width="1.5" height="1"/><rect x="763.0" y="885" width="1.5" height="1" fill="#6a6a6a"/>
<rect x="768.5" y="886" width="1.5" height="1"/><rect x="768.5" y="885" width="1.5" height="1" fill="#6a6a6a"/>
<rect x="772.0" y="886" width="1.5" height="1"/><rect x="772.0" y="885" width="1.5" height="1" fill="#6a6a6a"/>
<rect x="778.5" y="886" width="3.0" height="1"/><rect x="778.5" y="885" width="3.0" height="1" fill="#6a6a6a"/>
<rect x="1386.0" y="886" width="2.0" height="1"/><rect x="1386.0" y="885" width="2.0" height="1" fill="#6a6a6a"/>
<rect x="1390.0" y="886" width="1.5" height="1"/><rect x="1390.0" y="885" width="1.5" height="1" fill="#6a6a6a"/>
<rect x="1394.0" y="886" width="1.5" height="1"/><rect x="1394.0" y="885" width="1.5" height="1" fill="#6a6a6a"/>
<rect x="1402.0" y="886" width="6.0" height="1"/><rect x="1402.0" y="885" width="6.0" height="1" fill="#6a6a6a"/>
<rect x="1420.0" y="886" width="8.0" height="1"/><rect x="1420.0" y="885" width="8.0" height="1" fill="#6a6a6a"/>
<rect x="1446.0" y="886" width="10.0" height="1"/><rect x="1446.0" y="885" width="10.0" height="1" fill="#6a6a6a"/>
</g>
<rect x="765" y="884" width="12" height="3" fill="#e03030"/>
<g fill="#808080" fill-opacity="0.27" font-size="24" text-anchor="middle">
<text transform="translate(49.4 117.0) rotate(-45)" y="9">www.cfchi.com</text>
<text transform="translate(294.4 117.0) rotate(-45)" y="9">www.cfchi.com</text>
<text transform="translate(539.4 117.0) rotate(-45)" y="9">www.cfchi.com</text>
<text transform="translate(784.4 117.0) rotate(-45)" y="9">www.cfchi.com</text>
<text transform="translate(1029.4 117.0) rotate(-45)" y="9">www.cfchi.com</text>
<text transform="translate(1274.4 117.0) rotate(-45)" y="9">www.cfchi.com</text>
<text transform="translate(49.4 295.7) rotate(-45)" y="9">www.cfchi.com</text>
<text transform="translate(294.4 295.7) rotate(-45)" y="9">www.cfchi.com</text>
<text transform="translate(539.4 295.7) rotate(-45)" y="9">www.cfchi.com</text>
<text transform="translate(784.4 295.7) rotate(-45)" y="9">www.cfchi.com</text>
<text transform="translate(1029.4 295.7) rotate(-45)" y="9">www.cfchi.com</text>
<text transform="translate(1274.4 295.7) rotate(-45)" y="9">www.cfchi.com</text>
<text transform="translate(49.4 474.4) rotate(-45)" y="9">www.cfchi.com</text>
<text transform="translate(294.4 474.4) rotate(-45)" y="9">www.cfchi.com</text>
<text transform="translate(539.4 474.4) rotate(-45)" y="9">www.cfchi.com</text>
<text transform="translate(784.4 474.4) rotate(-45)" y="9">www.cfchi.com</text>
<text transform="translate(1029.4 474.4) rotate(-45)" y="9">www.cfchi.com</text>
<text transform="translate(1274.4 474.4) rotate(-45)" y="9">www.cfchi.com</text>
<text transform="translate(49.4 653.1) rotate(-45)" y="9">www.cfchi.com</text>
<text transform="translate(294.4 653.1) rotate(-45)" y="9">www.cfchi.com</text>
<text transform="translate(539.4 653.1) rotate(-45)" y="9">www.cfchi.com</text>
<text transform="translate(784.4 653.1) rotate(-45)" y="9">www.cfchi.com</text>
<text transform="translate(1029.4 653.1) rotate(-45)" y="9">www.cfchi.com</text>
<text transform="translate(1274.4 653.1) rotate(-45)" y="9">www.cfchi.com</text>
</g>
</svg>
</body></html>
